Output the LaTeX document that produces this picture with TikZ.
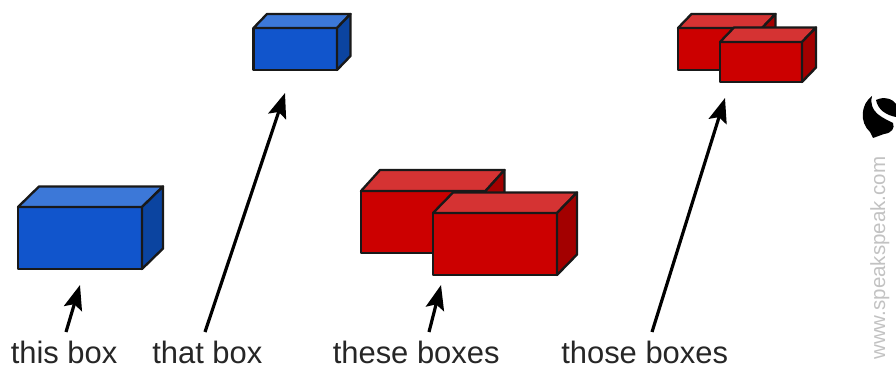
\documentclass[tikz,border=0pt]{standalone}
\usepackage{fontspec}
\setmainfont{Liberation Sans}
\usetikzlibrary{arrows.meta}
\definecolor{bf}{HTML}{1155CC}
\definecolor{bt}{HTML}{3C78D8}
\definecolor{bs}{HTML}{0B44A0}
\definecolor{rf}{HTML}{CC0000}
\definecolor{rt}{HTML}{D53333}
\definecolor{rs}{HTML}{A30000}
\tikzset{
 face/.style={draw=black!90,line width=1.75pt,line join=round},
 lab/.style={anchor=base west,inner sep=0pt,font=\fontsize{23.2pt}{25pt}\selectfont,text=black!85},
 pointer/.style={line width=2.4pt,draw=black,-{Stealth[length=18.5pt,width=14pt,inset=3.5pt]}}
}
% #1 front, #2 top, #3 side; #4..#7 xl,xr,yt,yb front; #8 back dx; #9 back dy
\newcommand{\cuboid}[9]{%
 \fill[#1] (#4,#6) rectangle (#5,#7);
 \path[face,fill=#2] (#4,#6) -- ({#4+#8},{#6-#9}) -- ({#5+#8},{#6-#9}) -- (#5,#6) -- cycle;
 \path[face,fill=#3] (#5,#6) -- ({#5+#8},{#6-#9}) -- ({#5+#8},{#7-#9}) -- (#5,#7) -- cycle;
 \path[face] (#4,#6) rectangle (#5,#7);
}
\begin{document}
\begin{tikzpicture}[x=0.75pt,y=-0.75pt]
\useasboundingbox (0,0) rectangle (896,367);
% boxes
\cuboid{bf}{bt}{bs}{18}{142}{207}{269}{21}{20.5}
\cuboid{bf}{bt}{bs}{253.5}{337}{28}{70}{13.5}{14}
\cuboid{rf}{rt}{rs}{361}{485.5}{191}{253}{19}{21}
\cuboid{rf}{rt}{rs}{433}{557}{213}{275}{20}{20.5}
\cuboid{rf}{rt}{rs}{678}{762}{28}{70}{13.5}{14}
\cuboid{rf}{rt}{rs}{720}{802}{42}{82}{14}{14.5}
% labels
\node[lab] (t1) at (10.5,363) {this box};
\node[lab] (t2) at (152,363) {that box};
\node[lab] (t3) at (332.5,363) {these boxes};
\node[lab] (t4) at (561,363) {those boxes};
% arrows
\coordinate (a1s) at (66,332); \coordinate (a1e) at (80,285);
\coordinate (a2s) at (205,332); \coordinate (a2e) at (285,93);
\coordinate (a3s) at (429,332); \coordinate (a3e) at (441,285);
\coordinate (a4s) at (652,332); \coordinate (a4e) at (725,98);
\draw[pointer] (a1s) -- (a1e);
\draw[pointer] (a2s) -- (a2e);
\draw[pointer] (a3s) -- (a3e);
\draw[pointer] (a4s) -- (a4e);
% watermark
\node[anchor=base west,rotate=90,inner sep=0pt,font=\fontsize{15.4pt}{17pt}\selectfont,text=black!24] (wm) at (885,360) {www.speakspeak.com};
% logo
\fill[black] (876,100) .. controls (884,96) and (893,99) .. (896,104) -- (896,117)
 .. controls (886,115) and (878,110) .. (876,100) -- cycle;
\fill[black] (872,96) .. controls (861,104) and (859,122) .. (870,132) -- (873,138) -- (884,134)
 .. controls (892,133) and (895,128) .. (893,123)
 .. controls (884,118) and (868,113) .. (872,96) -- cycle;
\end{tikzpicture}
\end{document}
